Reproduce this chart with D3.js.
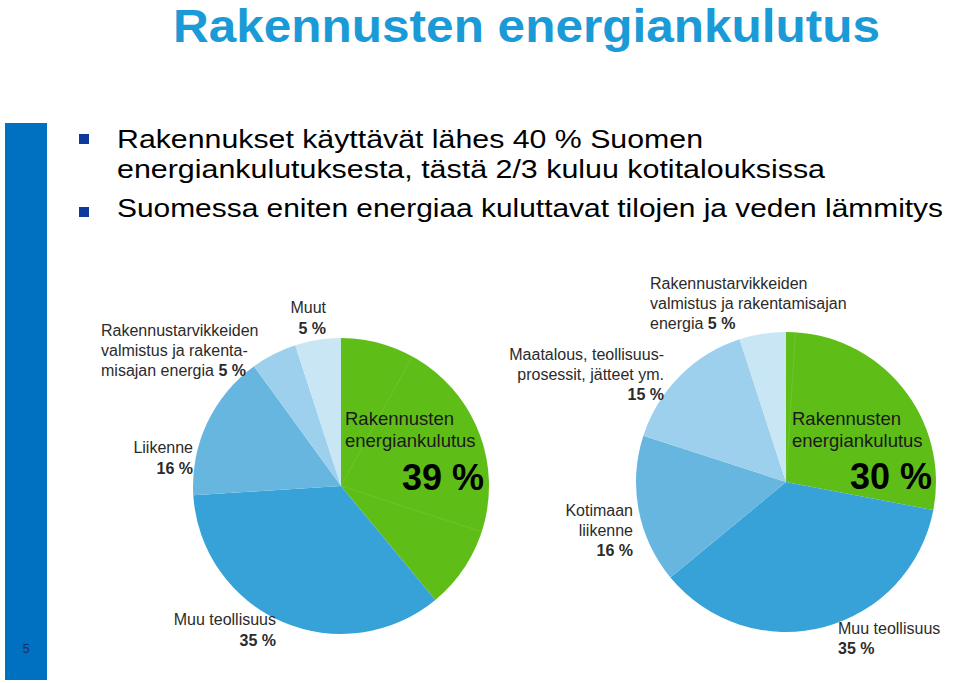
<!DOCTYPE html>
<html>
<head>
<meta charset="utf-8">
<script src="https://cdn.jsdelivr.net/npm/d3@7"></script>
<style>
  body { margin: 0; background: #fff; }
  svg { display: block; font-family: "Liberation Sans", Arial, sans-serif; }
</style>
</head>
<body>
<svg width="960" height="683"></svg>
<script>
const titleText = "Rakennusten energiankulutus";
const bulletLines = [
  "Rakennukset käyttävät lähes 40 % Suomen",
  "energiankulutuksesta, tästä 2/3 kuluu kotitalouksissa",
  "Suomessa eniten energiaa kuluttavat tilojen ja veden lämmitys"
];
const pageNumber = "5";

// left pie (shares)
const leftCategories = ["Rakennusten energiankulutus", "Muu teollisuus", "Liikenne",
  "Rakennustarvikkeiden valmistus ja rakentamisajan energia", "Muut"];
const leftValues = [39, 35, 16, 5, 5];
const leftGreenParts = [8, 22, 9];
const leftLabels = [
  ["Rakennusten", "energiankulutus"],
  ["Muu teollisuus", "35 %"],
  ["Liikenne", "16 %"],
  ["Rakennustarvikkeiden", "valmistus ja rakenta-", "misajan energia 5 %"],
  ["Muut", "5 %"]
];
const leftBig = "39 %";

// right pie
const rightCategories = ["Rakennusten energiankulutus", "Muu teollisuus", "Kotimaan liikenne",
  "Maatalous, teollisuusprosessit, jätteet ym.", "Rakennustarvikkeiden valmistus ja rakentamisajan energia"];
const rightValues = [28, 36, 16, 15, 5];
const rightGreenParts = [1, 27];
const rightLabels = [
  ["Rakennusten", "energiankulutus"],
  ["Muu teollisuus", "35 %"],
  ["Kotimaan", "liikenne", "16 %"],
  ["Maatalous, teollisuus-", "prosessit, jätteet ym.", "15 %"],
  ["Rakennustarvikkeiden", "valmistus ja rakentamisajan", "energia 5 %"]
];
const rightBig = "30 %";

const leftColors = ["#5fbd18", "#36a2d7", "#67b6df", "#9dd0ec", "#c9e6f5"];
const rightColors = ["#5fbd18", "#36a2d7", "#67b6df", "#9dd0ec", "#c9e6f5"];

const svg = d3.select("svg");

// side bar + page number
svg.append("rect").attr("x", 5).attr("y", 123).attr("width", 42).attr("height", 557)
  .attr("fill", "#0070c0");
svg.append("text").attr("x", 26).attr("y", 653).attr("text-anchor", "middle")
  .attr("font-size", 12).attr("fill", "#1b2b5b").text(pageNumber);

// title
svg.append("text").attr("x", 173).attr("y", 42)
  .attr("font-size", 46).attr("font-weight", "bold").attr("fill", "#1a9ad6")
  .attr("textLength", 707).attr("lengthAdjust", "spacingAndGlyphs")
  .text(titleText);

// bullets
const bulletY = [148, 178, 217];
const bulletW = [586, 708, 826];
bulletLines.forEach((t, i) => {
  svg.append("text").attr("x", 117).attr("y", bulletY[i])
    .attr("font-size", 25.5).attr("fill", "#000")
    .attr("textLength", bulletW[i]).attr("lengthAdjust", "spacingAndGlyphs")
    .text(t);
});
[134, 207].forEach(y => {
  svg.append("rect").attr("x", 79).attr("y", y).attr("width", 10).attr("height", 10)
    .attr("fill", "#0d3a9c");
});

function addLabel(g, x, y, lines, anchor, lh, size, color) {
  const t = g.append("text").attr("x", x).attr("y", y)
    .attr("text-anchor", anchor).attr("font-size", size).attr("fill", color);
  lines.forEach((line, i) => {
    const parts = line.split(/(\d+ %)/).filter(p => p !== "");
    parts.forEach((p, j) => {
      const ts = t.append("tspan").text(p)
        .attr("font-weight", /\d+ %/.test(p) ? "bold" : null);
      if (j === 0) ts.attr("x", x).attr("dy", i === 0 ? 0 : lh);
    });
  });
  return t;
}

function drawPie(cx, cy, r, values, colors, greenParts, labels, labelPos, big, bigPos) {
  const g = svg.append("g").attr("transform", `translate(${cx},${cy})`);
  const pie = d3.pie().sort(null).value(d => d);
  const arcs = pie(values);
  const arc = d3.arc().innerRadius(0).outerRadius(r);

  g.selectAll("path.slice")
    .data(arcs)
    .join("path")
    .attr("class", "slice")
    .attr("d", arc)
    .attr("fill", (d, i) => colors[i]);

  // faint sub-division lines inside the green slice
  const sub = d3.pie().sort(null).value(d => d)
    .startAngle(arcs[0].startAngle).endAngle(arcs[0].endAngle)(greenParts);
  g.selectAll("path.sub")
    .data(sub.slice(1))
    .join("path")
    .attr("class", "sub")
    .attr("d", d => {
      const a = d.startAngle;
      return `M0,0L${r * Math.sin(a)},${-r * Math.cos(a)}`;
    })
    .attr("stroke", "#7fcf48")
    .attr("stroke-opacity", 0.45)
    .attr("stroke-width", 1)
    .attr("fill", "none");

  labels.forEach((lines, i) => {
    const p = labelPos[i];
    addLabel(svg, p[0], p[1], lines, p[2], p[3], p[4], p[5]);
  });
  svg.append("text").attr("x", bigPos[0]).attr("y", bigPos[1])
    .attr("text-anchor", "end").attr("font-size", 36).attr("font-weight", "bold")
    .attr("fill", "#000").text(big);
}

const lab = "#2b2b2b";
drawPie(341, 486, 148, leftValues, leftColors, leftGreenParts, leftLabels, [
  [345, 425, "start", 22, 18.5, "#1a1a1a"],
  [276, 625, "end", 20.5, 16, lab],
  [193, 453, "end", 21, 16, lab],
  [101, 336, "start", 20, 16, lab],
  [326, 313, "end", 20.5, 16, lab]
], leftBig, [484, 490]);

drawPie(786, 482, 150, rightValues, rightColors, rightGreenParts, rightLabels, [
  [792, 425, "start", 22, 18.5, "#1a1a1a"],
  [838, 634, "start", 20, 16, lab],
  [633, 516, "end", 20, 16, lab],
  [664, 360, "end", 20, 16, lab],
  [650, 289, "start", 20, 16, lab]
], rightBig, [932, 489]);
</script>
</body>
</html>
